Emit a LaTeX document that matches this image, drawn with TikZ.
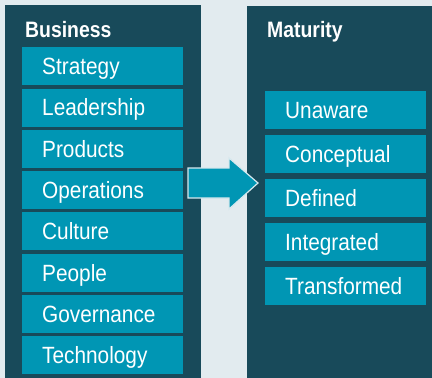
\documentclass[tikz,border=0pt]{standalone}
\usepackage{fontspec}
\setmainfont{Liberation Sans}[FakeStretch=0.87]
\newfontfamily\itemfont{Liberation Sans}[FakeStretch=0.885]
\definecolor{bgc}{HTML}{E2EBEF}
\definecolor{panelc}{HTML}{184A5A}
\definecolor{boxc}{HTML}{0096B4}
\definecolor{edgec}{HTML}{D6E8EE}
\begin{document}
\begin{tikzpicture}[x=1pt,y=-1pt,
  panel/.style={fill=panelc,draw=none},
  itembox/.style={fill=boxc,draw=none,anchor=north west,
    minimum height=38pt,inner ysep=0pt,inner xsep=20pt,
    text width=121pt,align=left,text height=16.9pt,text depth=0pt,
    text=white,font=\itemfont\fontsize{23.5}{28}\selectfont},
  heading/.style={anchor=base west,inner sep=0pt,text=white,
    font=\bfseries\fontsize{22.3}{26}\selectfont}]
\useasboundingbox (0,0) rectangle (432,378);
\fill[bgc] (0,0) rectangle (432,378);
\path[panel] (5,5) rectangle (201,378);
\path[panel] (247,6) rectangle (432,378);
\node[heading] (bus) at (25,37.7) {Business};
\node[heading] (mat) at (267,37.7) {Maturity};
\foreach \t [count=\i from 0] in {Strategy,Leadership,Products,Operations,Culture,People,Governance,Technology}
  \node[itembox] (b\i) at (22,47+41.3*\i) {\t};
\foreach \t [count=\i from 0] in {Unaware,Conceptual,Defined,Integrated,Transformed}
  \node[itembox] (m\i) at (265,91+44*\i) {\t};
\draw[fill=boxc,draw=edgec,line width=1.2pt,line join=miter]
  (188,168) -- (229,168) -- (229,158) -- (258,183) -- (229,209) -- (229,198) -- (188,198) -- cycle;
\end{tikzpicture}
\end{document}
